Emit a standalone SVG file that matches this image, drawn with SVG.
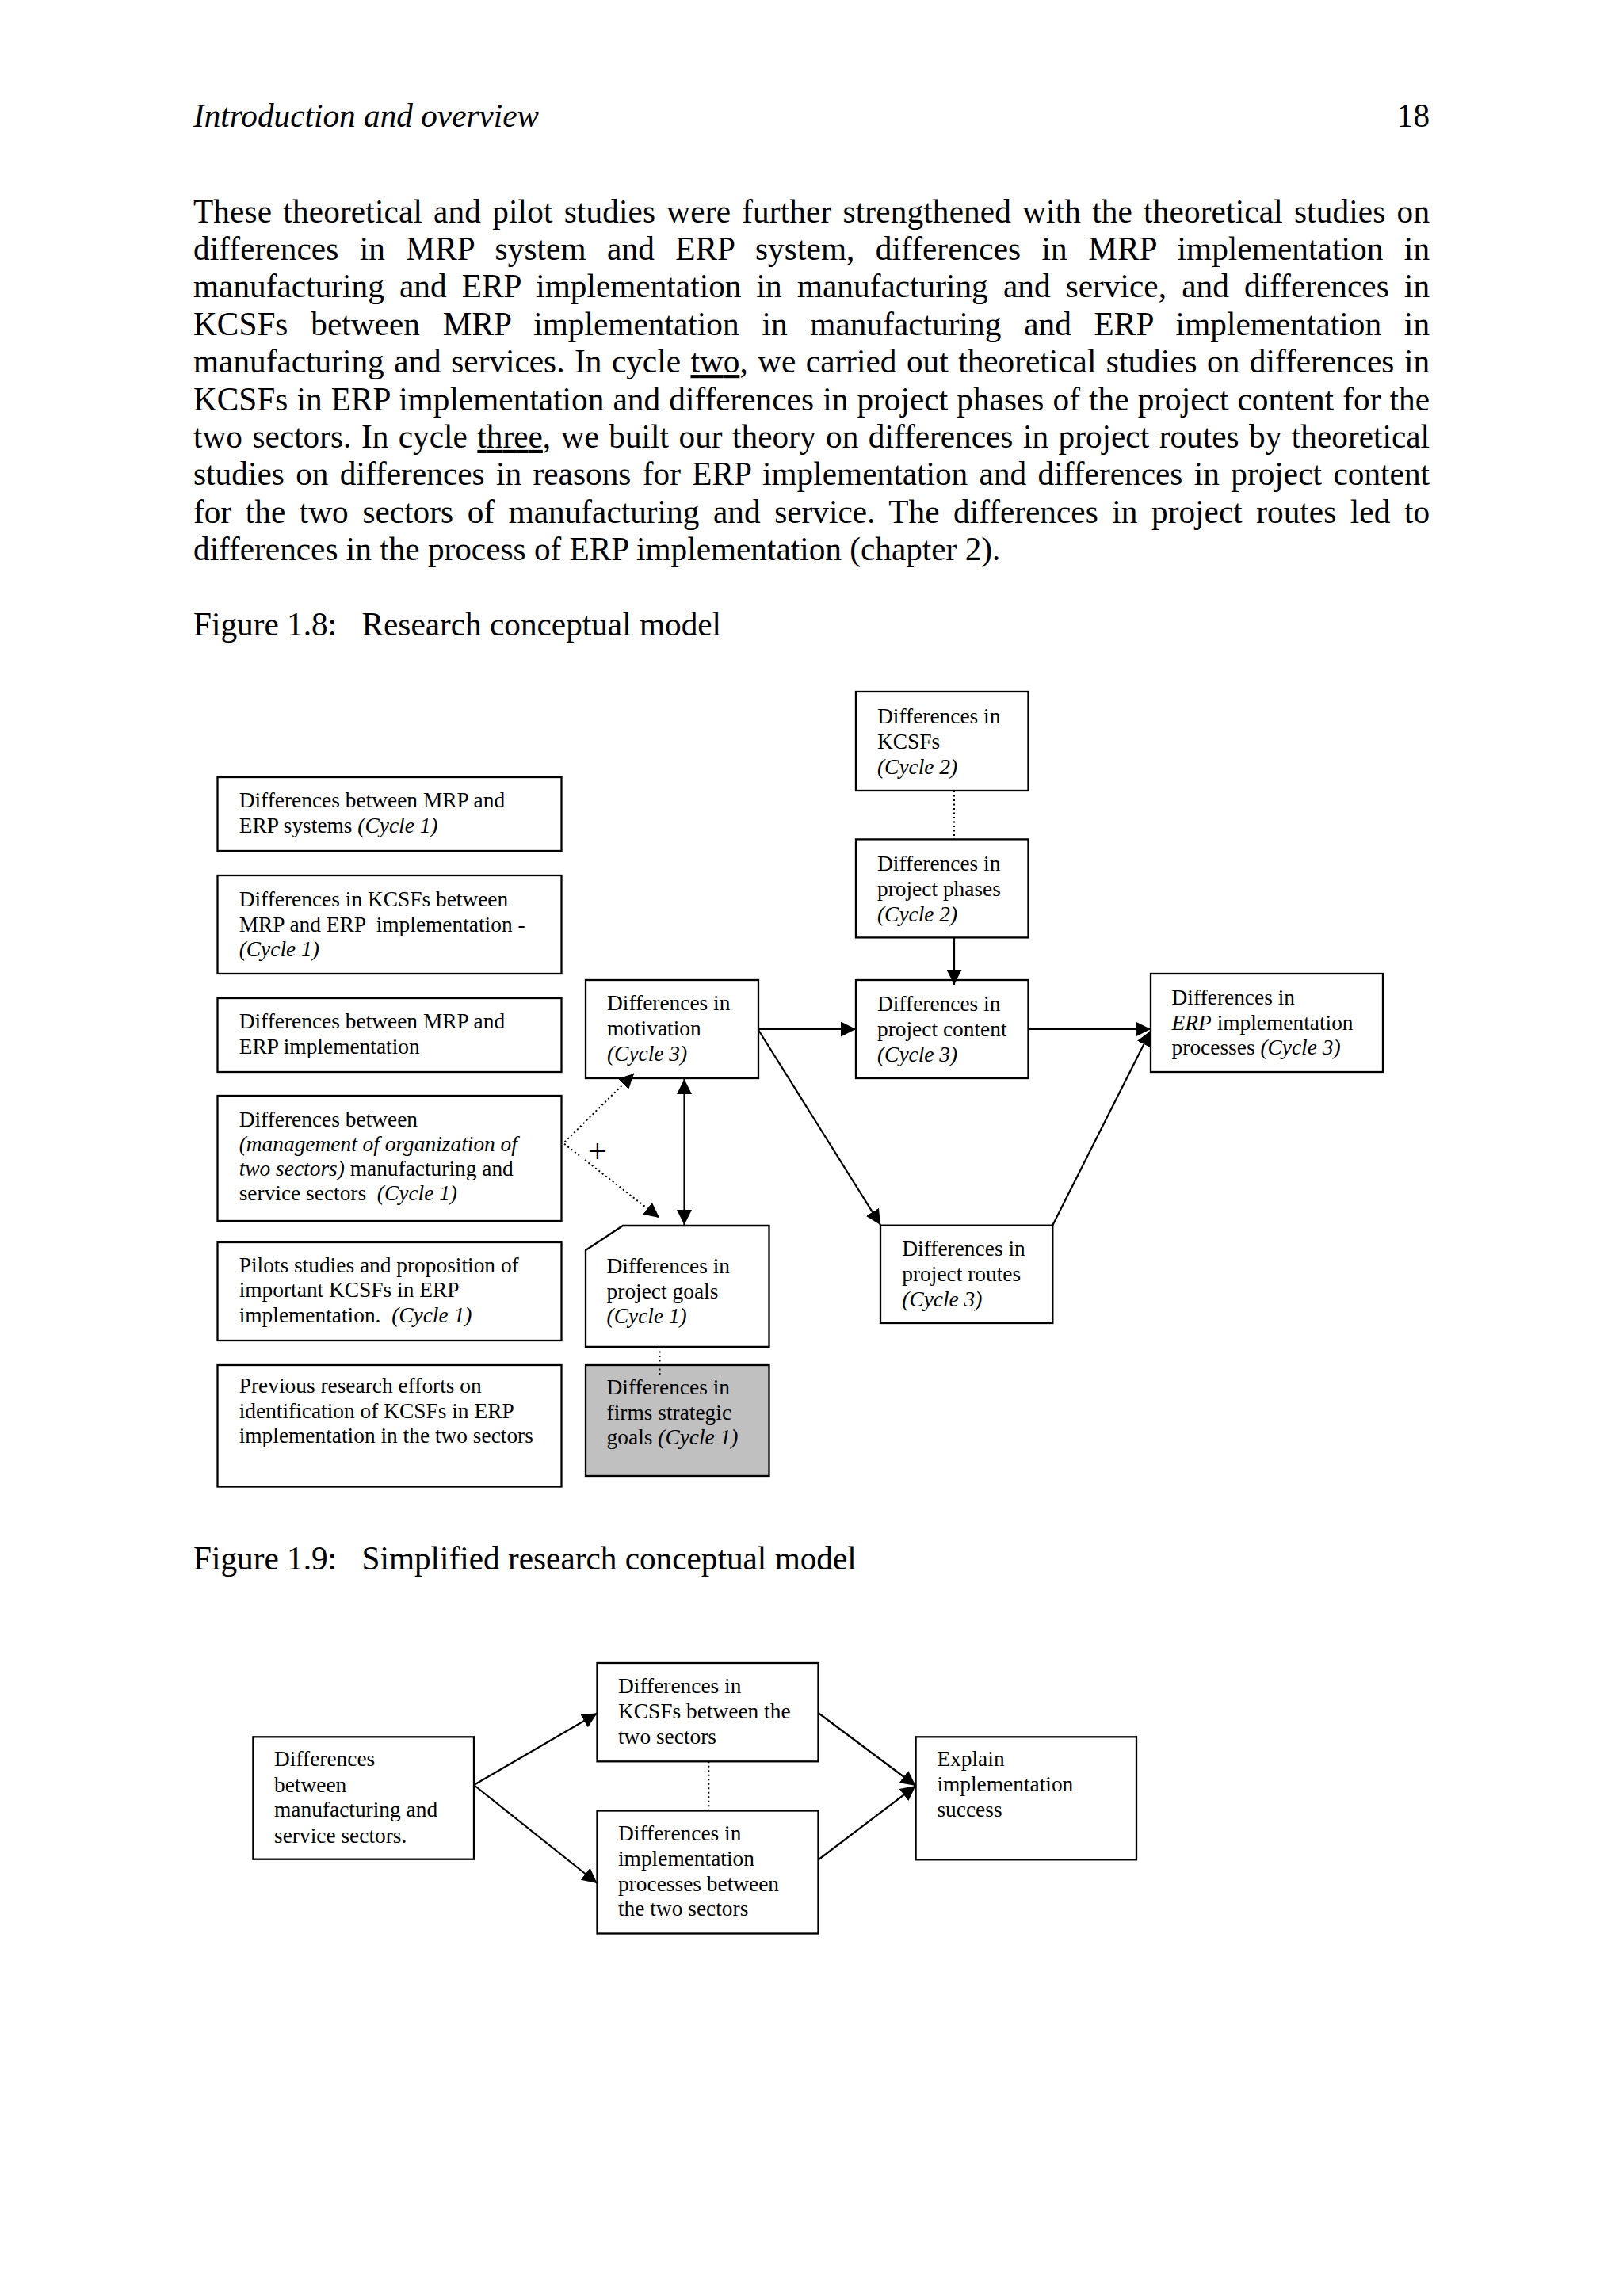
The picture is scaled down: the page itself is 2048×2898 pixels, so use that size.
<svg xmlns="http://www.w3.org/2000/svg" width="2048" height="2898" viewBox="0 0 2048 2898">
<style>
text{font-family:"Liberation Serif","Times New Roman",serif;fill:#000}
.body{font-size:41.25px}
.hd{font-size:41.25px;font-style:italic}
.d{font-size:27.4px}
.plus{font-size:43px}
.i{font-style:italic}
.u{text-decoration:underline}
.box{fill:#fff;stroke:#000;stroke-width:2.3}
.gray{fill:#c0c0c0;stroke:#000;stroke-width:2.3}
.ln{stroke:#000;stroke-width:2.2;fill:none}
.dot{stroke:#000;stroke-width:2;fill:none;stroke-dasharray:2 3.5}
</style>
<defs>
<marker id="ah" markerUnits="userSpaceOnUse" markerWidth="19" markerHeight="19" refX="19" refY="9.5" orient="auto-start-reverse" viewBox="0 0 19 19">
<path d="M0,0 L19,9.5 L0,19 z" fill="#000"/>
</marker>
</defs>
<rect width="2048" height="2898" fill="#fff"/>

<g id="page-text">
<text class="hd" x="244" y="160">Introduction and overview</text>
<text class="body" x="1804" y="160" text-anchor="end">18</text>
<text class="body" x="244" y="280.5" word-spacing="3.6" textLength="1560" lengthAdjust="spacing">These theoretical and pilot studies were further strengthened with the theoretical studies on</text>
<text class="body" x="244" y="327.9" word-spacing="16" textLength="1560" lengthAdjust="spacing">differences in MRP system and ERP system, differences in MRP implementation in</text>
<text class="body" x="244" y="375.3" word-spacing="8.8" textLength="1560" lengthAdjust="spacing">manufacturing and ERP implementation in manufacturing and service, and differences in</text>
<text class="body" x="244" y="422.7" word-spacing="18.4" textLength="1560" lengthAdjust="spacing">KCSFs between MRP implementation in manufacturing and ERP implementation in</text>
<text class="body" x="244" y="470.1" word-spacing="2.2" textLength="1560" lengthAdjust="spacing">manufacturing and services. In cycle <tspan class="u">two</tspan>, we carried out theoretical studies on differences in</text>
<text class="body" x="244" y="517.5" word-spacing="0.8" textLength="1560" lengthAdjust="spacing">KCSFs in ERP implementation and differences in project phases of the project content for the</text>
<text class="body" x="244" y="564.9" word-spacing="2.2" textLength="1560" lengthAdjust="spacing">two sectors. In cycle <tspan class="u">three</tspan>, we built our theory on differences in project routes by theoretical</text>
<text class="body" x="244" y="612.3" word-spacing="4" textLength="1560" lengthAdjust="spacing">studies on differences in reasons for ERP implementation and differences in project content</text>
<text class="body" x="244" y="659.7" word-spacing="7.3" textLength="1560" lengthAdjust="spacing">for the two sectors of manufacturing and service. The differences in project routes led to</text>
<text class="body" x="244" y="707.1">differences in the process of ERP implementation (chapter 2).</text>
<text class="body" x="244" y="802">Figure 1.8:</text>
<text class="body" x="456.5" y="802">Research conceptual model</text>
<text class="body" x="244" y="1981">Figure 1.9:</text>
<text class="body" x="456.5" y="1981">Simplified research conceptual model</text>
</g>

<g id="n-mrp-erp-systems">
<rect class="box" x="274.5" y="981" width="434" height="93"/>
<text class="d" x="301.7" y="1019">Differences between MRP and</text>
<text class="d" x="301.7" y="1051">ERP systems <tspan class="i">(Cycle 1)</tspan></text>
</g>
<g id="n-kcsfs-mrp-erp">
<rect class="box" x="274.5" y="1105" width="434" height="124"/>
<text class="d" x="301.7" y="1144">Differences in KCSFs between</text>
<text class="d" x="301.7" y="1175.5" xml:space="preserve">MRP and ERP  implementation -</text>
<text class="d" x="301.7" y="1207"><tspan class="i">(Cycle 1)</tspan></text>
</g>
<g id="n-mrp-erp-impl">
<rect class="box" x="274.5" y="1260" width="434" height="93"/>
<text class="d" x="301.7" y="1298">Differences between MRP and</text>
<text class="d" x="301.7" y="1330">ERP implementation</text>
</g>
<g id="n-sectors">
<rect class="box" x="274.5" y="1383" width="434" height="158"/>
<text class="d" x="301.7" y="1421.5">Differences between</text>
<text class="d" x="301.7" y="1452.5"><tspan class="i">(management of organization of</tspan></text>
<text class="d" x="301.7" y="1483.5"><tspan class="i">two sectors)</tspan> manufacturing and</text>
<text class="d" x="301.7" y="1515" xml:space="preserve">service sectors  <tspan class="i">(Cycle 1)</tspan></text>
</g>
<g id="n-pilots">
<rect class="box" x="274.5" y="1568" width="434" height="124"/>
<text class="d" x="301.7" y="1605.5">Pilots studies and proposition of</text>
<text class="d" x="301.7" y="1637">important KCSFs in ERP</text>
<text class="d" x="301.7" y="1668.6" xml:space="preserve">implementation.  <tspan class="i">(Cycle 1)</tspan></text>
</g>
<g id="n-previous">
<rect class="box" x="274.5" y="1723" width="434" height="153.5"/>
<text class="d" x="301.7" y="1758">Previous research efforts on</text>
<text class="d" x="301.7" y="1789.6">identification of KCSFs in ERP</text>
<text class="d" x="301.7" y="1821">implementation in the two sectors</text>
</g>

<g id="n-motivation">
<rect class="box" x="739" y="1237" width="218" height="124"/>
<text class="d" x="766" y="1275">Differences in</text>
<text class="d" x="766" y="1307">motivation</text>
<text class="d" x="766" y="1338.5"><tspan class="i">(Cycle 3)</tspan></text>
</g>
<g id="n-goals">
<polygon class="box" points="739,1578 786,1547 970.5,1547 970.5,1700 739,1700"/>
<text class="d" x="765.6" y="1607">Differences in</text>
<text class="d" x="765.6" y="1638.7">project goals</text>
<text class="d" x="765.6" y="1670"><tspan class="i">(Cycle 1)</tspan></text>
</g>
<g id="n-strategic">
<rect class="gray" x="739" y="1723" width="231.5" height="140"/>
<text class="d" x="765.6" y="1760">Differences in</text>
<text class="d" x="765.6" y="1791.5">firms strategic</text>
<text class="d" x="765.6" y="1823">goals <tspan class="i">(Cycle 1)</tspan></text>
</g>

<g id="n-kcsfs">
<rect class="box" x="1080" y="873" width="217.5" height="125"/>
<text class="d" x="1107" y="913">Differences in</text>
<text class="d" x="1107" y="944.5">KCSFs</text>
<text class="d" x="1107" y="977"><tspan class="i">(Cycle 2)</tspan></text>
</g>
<g id="n-phases">
<rect class="box" x="1080" y="1059.4" width="217.5" height="124"/>
<text class="d" x="1107" y="1098.7">Differences in</text>
<text class="d" x="1107" y="1131">project phases</text>
<text class="d" x="1107" y="1163.4"><tspan class="i">(Cycle 2)</tspan></text>
</g>
<g id="n-content">
<rect class="box" x="1080" y="1237" width="217.5" height="124"/>
<text class="d" x="1107" y="1276">Differences in</text>
<text class="d" x="1107" y="1307.7">project content</text>
<text class="d" x="1107" y="1340"><tspan class="i">(Cycle 3)</tspan></text>
</g>
<g id="n-routes">
<rect class="box" x="1111" y="1546.7" width="217.3" height="123.3"/>
<text class="d" x="1138.3" y="1585">Differences in</text>
<text class="d" x="1138.3" y="1617">project routes</text>
<text class="d" x="1138.3" y="1648.5"><tspan class="i">(Cycle 3)</tspan></text>
</g>
<g id="n-erp-processes">
<rect class="box" x="1452" y="1229" width="293" height="124"/>
<text class="d" x="1478.6" y="1268">Differences in</text>
<text class="d" x="1478.6" y="1299.5"><tspan class="i">ERP</tspan> implementation</text>
<text class="d" x="1478.6" y="1331">processes <tspan class="i">(Cycle 3)</tspan></text>
</g>

<g id="n-f9-sectors">
<rect class="box" x="319.4" y="2192.3" width="278.6" height="154.4"/>
<text class="d" x="346" y="2229.3">Differences</text>
<text class="d" x="346" y="2261.5">between</text>
<text class="d" x="346" y="2293.3">manufacturing and</text>
<text class="d" x="346" y="2325.5">service sectors.</text>
</g>
<g id="n-f9-kcsfs">
<rect class="box" x="753.5" y="2099" width="279" height="124.3"/>
<text class="d" x="780" y="2137.3">Differences in</text>
<text class="d" x="780" y="2169.3">KCSFs between the</text>
<text class="d" x="780" y="2200.7">two sectors</text>
</g>
<g id="n-f9-processes">
<rect class="box" x="753.5" y="2285.5" width="279" height="155"/>
<text class="d" x="780" y="2323.3">Differences in</text>
<text class="d" x="780" y="2355">implementation</text>
<text class="d" x="780" y="2386.7">processes between</text>
<text class="d" x="780" y="2418.3">the two sectors</text>
</g>
<g id="n-f9-success">
<rect class="box" x="1155.6" y="2192.3" width="278.4" height="155"/>
<text class="d" x="1182.4" y="2229.3">Explain</text>
<text class="d" x="1182.4" y="2261">implementation</text>
<text class="d" x="1182.4" y="2292.7">success</text>
</g>

<g id="connectors">
<line class="dot" x1="1204" y1="998" x2="1204" y2="1059"/>
<line class="ln" x1="1204" y1="1183" x2="1204" y2="1243" marker-end="url(#ah)"/>
<line class="ln" x1="957" y1="1299" x2="1080" y2="1299" marker-end="url(#ah)"/>
<line class="ln" x1="1297.5" y1="1299" x2="1452" y2="1299" marker-end="url(#ah)"/>
<line class="ln" x1="957" y1="1300" x2="1111" y2="1546" marker-end="url(#ah)"/>
<line class="ln" x1="1328" y1="1547" x2="1452" y2="1301" marker-end="url(#ah)"/>
<line class="ln" x1="863.5" y1="1362" x2="863.5" y2="1546" marker-start="url(#ah)" marker-end="url(#ah)"/>
<polyline class="dot" points="800,1355 711,1443 832,1537"/>
<line x1="720" y1="1434" x2="800" y2="1355" stroke="none" marker-end="url(#ah)"/>
<line x1="720" y1="1450" x2="832" y2="1537" stroke="none" marker-end="url(#ah)"/>
<text class="plus" x="754" y="1467" text-anchor="middle">+</text>
<line class="dot" x1="832.5" y1="1700" x2="832.5" y2="1736"/>
<line class="dot" x1="894.3" y1="2223.3" x2="894.3" y2="2285.5"/>
<line class="ln" x1="598" y1="2253" x2="753.5" y2="2162.5" marker-end="url(#ah)"/>
<line class="ln" x1="598" y1="2253" x2="753.5" y2="2377" marker-end="url(#ah)"/>
<line class="ln" x1="1032.5" y1="2162" x2="1155.6" y2="2254" marker-end="url(#ah)"/>
<line class="ln" x1="1032.5" y1="2347.5" x2="1155.6" y2="2254" marker-end="url(#ah)"/>
</g>
</svg>
